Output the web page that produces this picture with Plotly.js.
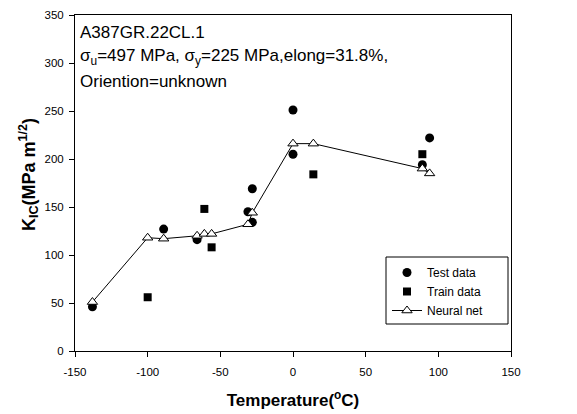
<!DOCTYPE html>
<html>
<head>
<meta charset="utf-8">
<script src="https://cdn.plot.ly/plotly-3.0.1.min.js"></script>
<style>html,body{margin:0;padding:0;background:#fff;}#chart{width:577px;height:414px;}</style>
</head>
<body>
<div id="chart"></div>
<script>
// Test data (circles)
const testTemp = [-138, -89, -66, -31, -28, -28, 0, 0, 89, 94];
const testKic  = [46, 127, 116, 145, 169, 134, 251, 205, 194, 222];
// Train data (squares)
const trainTemp = [-100, -61, -56, 14, 89];
const trainKic  = [56, 148, 108, 184, 205];
// Neural net prediction (triangles + line)
const nnTemp = [-138, -100, -89, -66, -61, -56, -31, -28, 0, 14, 89, 94];
const nnKic  = [51, 118, 117, 120, 122, 122, 132, 144, 216, 216, 190, 185];

const xTicks = [-150, -100, -50, 0, 50, 100, 150];
const yTicks = [0, 50, 100, 150, 200, 250, 300, 350];

const infoLines = [
  'A387GR.22CL.1',
  'σ<sub>u</sub>=497 MPa, σ<sub>y</sub>=225 MPa,elong=31.8%,',
  'Orientіon=unknown'
];

const FONT = 'Arial, "Liberation Sans", sans-serif';

const traces = [
  {x: testTemp, y: testKic, name: 'Test data', mode: 'markers', type: 'scatter',
   marker: {symbol: 'circle', size: 9, color: '#000'}},
  {x: trainTemp, y: trainKic, name: 'Train data', mode: 'markers', type: 'scatter',
   marker: {symbol: 'square', size: 8, color: '#000'}},
  {x: nnTemp, y: nnKic, name: 'Neural net', mode: 'lines+markers', type: 'scatter',
   line: {color: '#000', width: 1},
   marker: {symbol: 'triangle-up', size: 9, color: '#fff', line: {color: '#000', width: 1}}}
];

const axisCommon = {
  showline: true, mirror: true, linecolor: '#000', linewidth: 1,
  ticks: 'outside', ticklen: 5, tickwidth: 1, tickcolor: '#000',
  showgrid: false, zeroline: false,
  tickfont: {family: FONT, size: 11.5, color: '#000'}
};

// pixel helpers for placement (plot area 75..511 x, 15..351 y)
const PL = 75, PR = 511, PT = 15, PB = 351;
const px2x = p => (p - PL) / (PR - PL);
const px2y = p => (PB - p) / (PB - PT);

const infoY = [32, 57, 82];
const annotations = infoLines.map((t, i) => ({
  xref: 'paper', yref: 'paper', x: px2x(78), y: px2y(infoY[i]),
  xanchor: 'left', yanchor: 'middle', showarrow: false, align: 'left',
  text: t, font: {family: FONT, size: 17, color: '#000'}
}));
annotations.push({
  xref: 'paper', yref: 'paper', x: px2x(28), y: px2y(175),
  xanchor: 'center', yanchor: 'middle', showarrow: false, textangle: -90,
  text: '<b>K<sub>IC</sub>(MPa m<sup>1/2</sup>)</b>',
  font: {family: FONT, size: 18, color: '#000'}
});

const layout = {
  width: 577, height: 414,
  margin: {l: PL, r: 577 - PR, t: PT, b: 414 - PB},
  paper_bgcolor: '#fff', plot_bgcolor: '#fff',
  font: {family: FONT, color: '#000'},
  showlegend: true,
  legend: {x: px2x(387), y: px2y(258), xanchor: 'left', yanchor: 'top',
           borderwidth: 0, bgcolor: 'rgba(0,0,0,0)',
           font: {family: FONT, size: 12, color: '#000'}},
  shapes: [
    {type: 'rect', xref: 'paper', yref: 'paper', layer: 'above',
     x0: px2x(386), x1: px2x(508), y0: px2y(257), y1: px2y(324),
     line: {color: '#000', width: 1}, fillcolor: '#fff'}
  ],
  xaxis: Object.assign({}, axisCommon, {
    range: [-150, 150], tickvals: xTicks, ticktext: xTicks.map(String),
    ticklabelstandoff: 5,
    title: {text: '<b>Temperature(<sup>o</sup>C)</b>', font: {family: FONT, size: 17, color: '#000'}, standoff: 17}
  }),
  yaxis: Object.assign({}, axisCommon, {
    range: [0, 350], tickvals: yTicks, ticktext: yTicks.map(String),
    ticklabelstandoff: 3
  }),
  annotations: annotations
};

Plotly.newPlot('chart', traces, layout, {displayModeBar: false, staticPlot: true});
</script>
</body>
</html>
